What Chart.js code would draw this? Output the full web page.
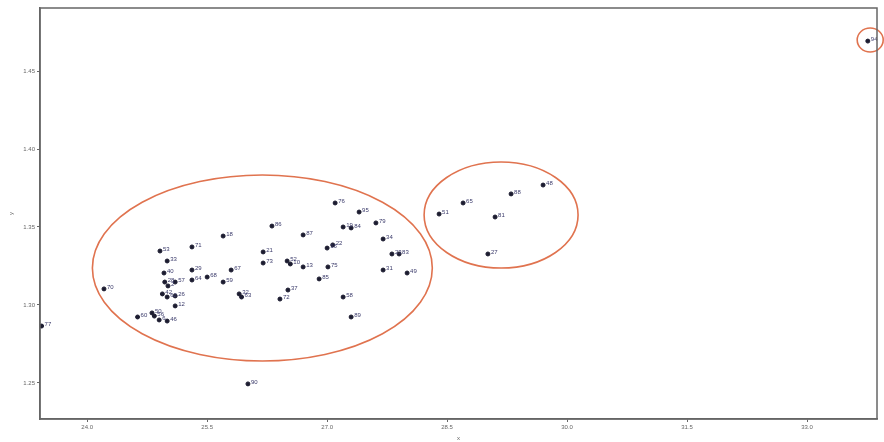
<!DOCTYPE html>
<html>
<head>
<meta charset="utf-8">
<script src="https://cdn.jsdelivr.net/npm/chart.js@4.4.1/dist/chart.umd.min.js"></script>
<style>
  html, body { margin: 0; padding: 0; background: #fff; }
  #wrap { width: 884px; height: 442px; }
</style>
</head>
<body>
<div id="wrap"><canvas id="grafica"></canvas></div>
<script>
// sample ids, x and y values
const ids = ['77', '70', '90', '53', '33', '71', '18', '86', '21', '73',
             '29', '64', '68', '67', '59', '32', '63', '72', '37', '40',
             '28', '2', '57', '42', '62', '26', '12', '50', '56', '6',
             '46', '60', '76', '95', '84', '19', '79', '87', '16', '22',
             '34', '23', '83', '31', '49', '52', '10', '13', '75', '85',
             '58', '89', '51', '65', '81', '88', '48', '27', '94'];
const xVals = [23.43, 24.21, 26.01, 24.91, 25.00, 25.31, 25.70, 26.31, 26.20, 26.20,
               25.31, 25.31, 25.50, 25.80, 25.70, 25.90, 25.93, 26.41, 26.51, 24.96,
               24.97, 25.01, 25.10, 24.94, 25.00, 25.10, 25.10, 24.81, 24.84, 24.90,
               25.00, 24.63, 27.10, 27.40, 27.30, 27.20, 27.61, 26.70, 27.00, 27.07,
               27.70, 27.81, 27.90, 27.70, 28.00, 26.50, 26.54, 26.70, 27.01, 26.90,
               27.20, 27.30, 28.40, 28.70, 29.10, 29.30, 29.70, 29.01, 33.76];
const yVals = [1.2865, 1.3103, 1.2494, 1.3346, 1.3282, 1.3372, 1.3442, 1.3506, 1.3340, 1.3269,
               1.3224, 1.3160, 1.3179, 1.3224, 1.3147, 1.3071, 1.3051, 1.3038, 1.3096, 1.3205,
               1.3147, 1.3122, 1.3147, 1.3071, 1.3051, 1.3058, 1.2994, 1.2949, 1.2929, 1.2904,
               1.2897, 1.2923, 1.3654, 1.3596, 1.3494, 1.3500, 1.3526, 1.3449, 1.3365, 1.3385,
               1.3423, 1.3327, 1.3327, 1.3224, 1.3205, 1.3282, 1.3263, 1.3244, 1.3244, 1.3167,
               1.3051, 1.2923, 1.3583, 1.3654, 1.3564, 1.3712, 1.3769, 1.3327, 1.4692];

const xTicks = [24.0, 25.5, 27.0, 28.5, 30.0, 31.5, 33.0];
const yTicks = [1.25, 1.30, 1.35, 1.40, 1.45];

// groups circled on the picture: centre and radii in data units
const grupos = [
  { cx: 26.19, cy: 1.3237, rx: 2.125, ry: 0.0596 },
  { cx: 29.175, cy: 1.3577, rx: 0.9625, ry: 0.034 },
  { cx: 33.79, cy: 1.4699, rx: 0.1625, ry: 0.0077 }
];

const puntos = xVals.map((x, i) => ({ x: x, y: yVals[i] }));

const etiquetas = {
  id: 'etiquetas',
  afterDatasetsDraw(chart) {
    const ctx = chart.ctx;
    const meta = chart.getDatasetMeta(0);
    ctx.save();
    ctx.font = '6px "Liberation Sans", Arial, sans-serif';
    ctx.fillStyle = '#3a3a6a';
    ctx.textBaseline = 'bottom';
    meta.data.forEach((pt, i) => {
      ctx.fillText(ids[i], pt.x + 3, pt.y + 1);
    });
    ctx.restore();
  }
};

const elipses = {
  id: 'elipses',
  afterDatasetsDraw(chart) {
    const ctx = chart.ctx;
    const sx = chart.scales.x, sy = chart.scales.y;
    ctx.save();
    ctx.strokeStyle = '#e0734f';
    ctx.lineWidth = 1.6;
    grupos.forEach(g => {
      const cx = sx.getPixelForValue(g.cx);
      const cy = sy.getPixelForValue(g.cy);
      const rx = Math.abs(sx.getPixelForValue(g.cx + g.rx) - cx);
      const ry = Math.abs(sy.getPixelForValue(g.cy + g.ry) - cy);
      ctx.beginPath();
      ctx.ellipse(cx, cy, rx, ry, 0, 0, Math.PI * 2);
      ctx.stroke();
    });
    ctx.restore();
  }
};

const marco = {
  id: 'marco',
  afterDraw(chart) {
    const a = chart.chartArea;
    const ctx = chart.ctx;
    ctx.save();
    ctx.strokeStyle = '#666';
    ctx.lineWidth = 1.5;
    ctx.strokeRect(a.left, a.top, a.right - a.left, a.bottom - a.top);
    ctx.restore();
  }
};

const fuente = { family: '"Liberation Sans", Arial, sans-serif', size: 6 };

new Chart(document.getElementById('grafica').getContext('2d'), {
  type: 'scatter',
  data: {
    datasets: [{
      data: puntos,
      backgroundColor: '#1c1c30',
      borderColor: '#1c1c30',
      pointRadius: 2,
      pointHoverRadius: 2
    }]
  },
  options: {
    responsive: true,
    maintainAspectRatio: false,
    animation: false,
    layout: { padding: { left: 0, top: 8, right: 7, bottom: 0 } },
    plugins: {
      legend: { display: false },
      tooltip: { enabled: false }
    },
    scales: {
      x: {
        type: 'linear',
        min: 23.41,
        max: 33.875,
        afterBuildTicks: s => { s.ticks = xTicks.map(v => ({ value: v })); },
        afterFit: s => { s.height = 23; },
        grid: { drawOnChartArea: false, tickLength: 3, color: '#666' },
        border: { color: '#666', width: 1.5 },
        ticks: { font: fuente, color: '#666', padding: 2, maxRotation: 0,
                 callback: v => v.toFixed(1) },
        title: { display: true, text: 'x', font: fuente, color: '#666', padding: 0 }
      },
      y: {
        type: 'linear',
        min: 1.2269,
        max: 1.4904,
        afterBuildTicks: s => { s.ticks = yTicks.map(v => ({ value: v })); },
        afterFit: s => { s.width = 40; },
        grid: { drawOnChartArea: false, tickLength: 3, color: '#666' },
        border: { color: '#666', width: 1.5 },
        ticks: { font: fuente, color: '#666', padding: 2,
                 callback: v => v.toFixed(2) },
        title: { display: true, text: 'y', font: fuente, color: '#666', padding: 8 }
      }
    }
  },
  plugins: [elipses, etiquetas, marco]
});
</script>
</body>
</html>
